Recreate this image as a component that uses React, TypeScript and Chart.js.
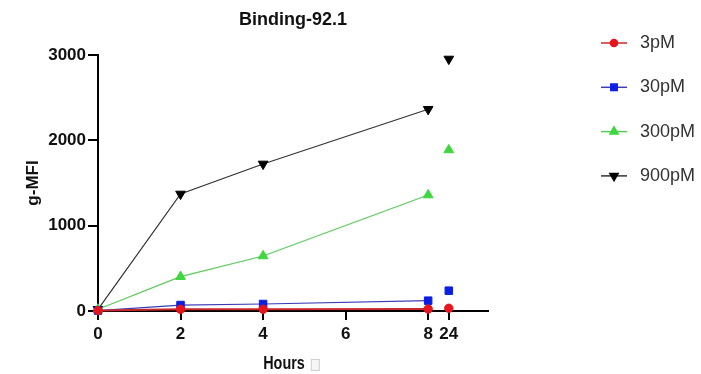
import { useEffect, useRef } from 'react';
import { Chart, registerables } from 'chart.js';
import { drawPoint } from 'chart.js/helpers';

Chart.register(...registerables);

// ---------- data ----------
const chartTitle = 'Binding-92.1';
const xAxisTitle = 'Hours';
const yAxisTitle = 'g-MFI';
const hours = [0, 2, 4, 8, 24];
const xTickHours = [0, 2, 4, 6, 8, 24];
const yTickValues = [0, 1000, 2000, 3000];
const seriesNames = ['3pM', '30pM', '300pM', '900pM'];
const gmfi3pM = [5, 20, 20, 23, 32];
const gmfi30pM = [5, 70, 82, 121, 238];
const gmfi300pM = [20, 402, 645, 1359, 1887];
const gmfi900pM = [20, 1371, 1723, 2364, 2953];
const seriesValues = [gmfi3pM, gmfi30pM, gmfi300pM, gmfi900pM];

// broken x axis: 0–8 h continuous, 24 h placed in a short separate segment
const BREAK_AT = 8;
const LATE_POS = 8.5;
const axisPos = (h: number) => (h <= BREAK_AT ? h : LATE_POS + (h - 24) * 0.05);

const seriesStyles = [
  { point: '#e6141c', line: '#c8282c', style: 'circle', radius: 4.2, rotation: 0, lw: 2 },
  { point: '#0b1ee6', line: '#3c3cb4', style: 'rect', radius: 5.3, rotation: 0, lw: 1.2 },
  { point: '#3fd63f', line: '#5acb5a', style: 'triangle', radius: 5.6, rotation: 0, lw: 1.2 },
  { point: '#000000', line: '#333333', style: 'triangle', radius: 5.6, rotation: 180, lw: 1.2 },
];

const decorPlugin = {
  id: 'decor',
  afterDraw(chart: any) {
    const { ctx, chartArea } = chart;
    ctx.save();
    // x axis title (condensed bold) + faint box glyph
    ctx.font = 'bold 18px "Liberation Sans", Arial, sans-serif';
    ctx.fillStyle = '#111';
    ctx.textAlign = 'center';
    ctx.textBaseline = 'middle';
    const cx = (chartArea.left + chartArea.right) / 2 - 9;
    const squeeze = 0.8;
    ctx.save();
    ctx.translate(cx, 364);
    ctx.scale(squeeze, 1);
    ctx.fillText(xAxisTitle, 0, 0);
    ctx.restore();
    const w = ctx.measureText(xAxisTitle).width * squeeze;
    ctx.fillStyle = '#f6f6f6';
    ctx.strokeStyle = '#cfcfcf';
    ctx.lineWidth = 1;
    ctx.fillRect(cx + w / 2 + 6.5, 359.5, 8, 11);
    ctx.strokeRect(cx + w / 2 + 6.5, 359.5, 8, 11);

    // legend
    chart.data.datasets.forEach((ds: any, i: number) => {
      const st = seriesStyles[i];
      const y = 43 + i * 44.3;
      ctx.strokeStyle = st.line;
      ctx.lineWidth = 1.5;
      ctx.beginPath();
      ctx.moveTo(601, y);
      ctx.lineTo(627, y);
      ctx.stroke();
      ctx.fillStyle = st.point;
      ctx.strokeStyle = st.point;
      drawPoint(ctx, { pointStyle: st.style, rotation: st.rotation, radius: st.radius * 0.85, borderWidth: 1 } as any, 614, y);
      ctx.fillStyle = '#333';
      ctx.textAlign = 'left';
      ctx.textBaseline = 'middle';
      ctx.font = '18px "Liberation Sans", Arial, sans-serif';
      ctx.fillText(ds.label, 640, y);
    });
    ctx.restore();
  },
};

export default function App() {
  const ref = useRef<HTMLCanvasElement | null>(null);

  useEffect(() => {
    if (!ref.current) return;
    const datasets = seriesNames.map((name, i) => {
      const st = seriesStyles[i];
      return {
        label: name,
        data: hours.map((h, j) => ({ x: axisPos(h), y: seriesValues[i][j] })),
        borderColor: st.line,
        borderWidth: st.lw,
        backgroundColor: st.point,
        pointBackgroundColor: st.point,
        pointBorderColor: st.point,
        pointBorderWidth: 1,
        pointStyle: st.style,
        pointRotation: st.rotation,
        pointRadius: st.radius,
        tension: 0,
        fill: false,
        clip: false,
        segment: {
          borderColor: (c: any) => (hours[c.p1DataIndex] > BREAK_AT ? 'rgba(0,0,0,0)' : undefined),
        },
      };
    });

    const chart = new Chart(ref.current, {
      type: 'line',
      data: { datasets } as any,
      plugins: [decorPlugin],
      options: {
        animation: false,
        responsive: false,
        events: [],
        layout: { padding: { left: 0, top: 0, right: 701 - 488, bottom: 0 } },
        plugins: {
          legend: { display: false },
          tooltip: { enabled: false },
          title: {
            display: true,
            text: chartTitle,
            fullSize: false,
            color: '#111',
            font: { family: '"Liberation Sans", Arial, sans-serif', size: 18, weight: 'bold' },
            padding: { top: 9, bottom: 24.4 },
          },
        },
        scales: {
          x: {
            type: 'linear',
            min: 0,
            max: 9.45,
            afterFit: (s: any) => { s.height = 63; },
            afterBuildTicks: (s: any) => { s.ticks = xTickHours.map((h) => ({ value: axisPos(h) })); },
            ticks: {
              autoSkip: false,
              maxRotation: 0,
              minRotation: 0,
              padding: 4,
              color: '#111',
              font: { family: '"Liberation Sans", Arial, sans-serif', size: 17, weight: 'bold' },
              callback: (_v: any, i: number) => String(xTickHours[i]),
            },
            grid: { display: true, drawOnChartArea: false, drawTicks: true, tickLength: 9, color: '#000', lineWidth: 2 },
            border: { display: true, color: '#000', width: 2 },
          },
          y: {
            type: 'linear',
            min: 0,
            max: 3000,
            afterFit: (s: any) => { s.width = 98; },
            afterBuildTicks: (s: any) => { s.ticks = yTickValues.map((v) => ({ value: v })); },
            ticks: {
              padding: 2,
              color: '#111',
              font: { family: '"Liberation Sans", Arial, sans-serif', size: 17, weight: 'bold' },
              callback: (v: any) => String(v),
            },
            title: {
              display: true,
              text: yAxisTitle,
              color: '#111',
              font: { family: '"Liberation Sans", Arial, sans-serif', size: 17, weight: 'bold' },
              padding: { top: 23, bottom: 0 },
            },
            grid: { display: true, drawOnChartArea: false, drawTicks: true, tickLength: 10, color: '#000', lineWidth: 2 },
            border: { display: true, color: '#000', width: 2 },
          },
        },
      } as any,
    });
    return () => chart.destroy();
  }, []);

  return (
    <div style={{ position: 'fixed', left: 0, top: 0, width: 701, height: 374, background: '#fff' }}>
      <canvas ref={ref} width={701} height={374} style={{ display: 'block' }} />
    </div>
  );
}
